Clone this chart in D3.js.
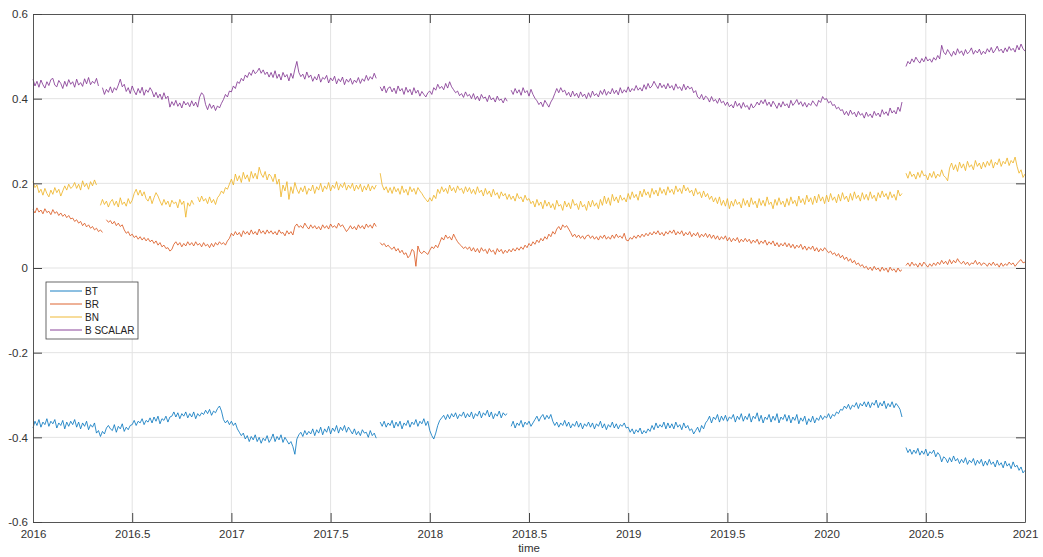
<!DOCTYPE html>
<html>
<head>
<meta charset="utf-8">
<script src="https://cdn.jsdelivr.net/npm/d3@7"></script>
<style>
  body { margin: 0; background: #fff; }
  svg { display: block; font-family: "Liberation Sans", Arial, sans-serif; }
</style>
</head>
<body>
<div id="chart"></div>
<script>
// samples every 0.01 yr from 2016.00 to 2021.00 (501 values per series, 20 per row)
const t0 = 2016, dt = 0.01;

const bt = [
  -.378,-.362,-.372,-.358,-.376,-.364,-.370,-.356,-.374,-.362,-.368,-.358,-.378,-.366,-.372,-.360,-.380,-.364,-.374,-.362,
  -.370,-.358,-.376,-.364,-.380,-.366,-.374,-.362,-.382,-.370,-.376,-.366,-.390,-.384,-.398,-.386,-.392,-.378,-.372,-.380,
  -.384,-.370,-.388,-.374,-.380,-.368,-.386,-.376,-.382,-.372,-.370,-.360,-.372,-.362,-.366,-.356,-.370,-.360,-.364,-.354,
  -.366,-.352,-.362,-.350,-.368,-.356,-.360,-.350,-.364,-.352,-.350,-.340,-.352,-.342,-.356,-.344,-.350,-.340,-.354,-.344,
  -.352,-.340,-.356,-.344,-.350,-.342,-.346,-.336,-.344,-.334,-.348,-.338,-.342,-.332,-.326,-.338,-.358,-.366,-.360,-.370,
  -.362,-.372,-.366,-.380,-.388,-.396,-.390,-.404,-.396,-.410,-.398,-.406,-.394,-.410,-.400,-.414,-.402,-.408,-.396,-.412,
  -.404,-.392,-.410,-.398,-.406,-.394,-.412,-.400,-.408,-.416,-.410,-.422,-.440,-.404,-.394,-.388,-.398,-.384,-.394,-.386,
  -.392,-.380,-.396,-.382,-.390,-.376,-.394,-.380,-.388,-.374,-.392,-.378,-.386,-.372,-.390,-.376,-.384,-.372,-.388,-.376,
  -.384,-.392,-.380,-.394,-.386,-.396,-.382,-.390,-.388,-.400,-.384,-.396,-.390,-.402,null,-.364,-.374,-.362,-.376,-.366,
  -.372,-.360,-.378,-.364,-.374,-.362,-.380,-.366,-.372,-.360,-.376,-.364,-.370,-.358,-.374,-.362,-.368,-.356,-.372,-.362,
  -.384,-.396,-.404,-.390,-.372,-.360,-.354,-.348,-.358,-.346,-.356,-.344,-.352,-.342,-.356,-.346,-.350,-.340,-.354,-.344,
  -.352,-.340,-.356,-.344,-.350,-.338,-.354,-.342,-.348,-.336,-.352,-.340,-.356,-.344,-.350,-.338,-.354,-.342,-.348,-.344,
  null,-.374,-.362,-.378,-.366,-.372,-.360,-.376,-.364,-.370,-.362,-.374,-.366,-.358,-.350,-.362,-.352,-.346,-.358,-.348,
  -.356,-.346,-.362,-.372,-.364,-.376,-.366,-.372,-.360,-.374,-.364,-.378,-.368,-.374,-.362,-.376,-.366,-.380,-.368,-.374,
  -.364,-.376,-.366,-.380,-.368,-.374,-.362,-.378,-.368,-.382,-.370,-.376,-.364,-.378,-.368,-.380,-.370,-.374,-.366,-.378,
  -.376,-.388,-.380,-.392,-.382,-.388,-.378,-.392,-.384,-.390,-.380,-.386,-.372,-.382,-.366,-.378,-.370,-.376,-.364,-.380,
  -.366,-.378,-.368,-.380,-.364,-.376,-.370,-.382,-.366,-.378,-.372,-.384,-.380,-.392,-.384,-.376,-.388,-.372,-.380,-.366,
  -.360,-.350,-.366,-.352,-.358,-.346,-.364,-.350,-.360,-.348,-.362,-.352,-.356,-.346,-.364,-.350,-.358,-.344,-.362,-.350,
  -.358,-.344,-.364,-.350,-.356,-.342,-.362,-.348,-.366,-.352,-.358,-.346,-.364,-.350,-.360,-.344,-.366,-.352,-.358,-.346,
  -.362,-.348,-.366,-.352,-.360,-.346,-.368,-.354,-.362,-.350,-.370,-.356,-.364,-.350,-.366,-.354,-.360,-.348,-.358,-.350,
  -.354,-.344,-.356,-.346,-.350,-.340,-.344,-.334,-.336,-.326,-.332,-.322,-.334,-.324,-.328,-.318,-.332,-.320,-.326,-.316,
  -.328,-.316,-.330,-.318,-.324,-.312,-.330,-.318,-.326,-.314,-.332,-.320,-.328,-.316,-.330,-.320,-.326,-.334,-.352,null,
  -.424,-.436,-.428,-.440,-.430,-.438,-.426,-.442,-.432,-.440,-.428,-.444,-.434,-.438,-.430,-.446,-.436,-.442,-.458,-.446,
  -.450,-.460,-.448,-.458,-.444,-.456,-.450,-.462,-.452,-.460,-.448,-.464,-.454,-.460,-.450,-.466,-.454,-.462,-.452,-.468,
  -.456,-.466,-.452,-.464,-.458,-.470,-.454,-.466,-.460,-.472,-.456,-.468,-.462,-.474,-.458,-.470,-.466,-.478,-.470,-.484,
  -.478
];

const br = [
  .138,.130,.142,.132,.137,.128,.140,.131,.134,.126,.138,.129,.133,.124,.130,.122,.127,.119,.124,.116,
  .118,.110,.114,.106,.110,.100,.106,.097,.102,.094,.098,.090,.094,.086,.090,.084,null,.114,.108,.112,
  .104,.110,.100,.106,.098,.102,.090,.082,.086,.076,.080,.072,.076,.068,.074,.066,.072,.064,.070,.062,
  .066,.058,.064,.054,.060,.050,.054,.046,.048,.040,.044,.056,.062,.054,.060,.050,.058,.052,.062,.054,
  .060,.052,.062,.054,.058,.050,.060,.052,.056,.048,.058,.050,.060,.054,.062,.056,.060,.054,.064,.070,
  .082,.076,.086,.078,.084,.074,.088,.080,.086,.078,.090,.080,.086,.078,.092,.082,.088,.080,.090,.082,
  .088,.080,.086,.078,.090,.082,.084,.076,.088,.080,.086,.078,.098,.104,.096,.100,.094,.106,.098,.092,
  .102,.094,.100,.092,.098,.090,.102,.094,.100,.092,.104,.096,.100,.094,.106,.098,.102,.094,.086,.092,
  .100,.092,.098,.090,.102,.094,.100,.092,.104,.096,.102,.094,.106,.098,null,.060,.054,.058,.050,.054,
  .048,.044,.050,.040,.046,.036,.042,.032,.036,.024,.030,.044,.040,.004,.052,.038,.034,.040,.036,.032,
  .042,.050,.046,.054,.048,.060,.072,.066,.078,.070,.074,.066,.080,.070,.062,.056,.052,.046,.050,.044,
  .050,.040,.048,.038,.046,.036,.048,.040,.044,.034,.046,.038,.042,.032,.046,.038,.044,.034,.042,.036,
  .044,.038,.046,.040,.048,.042,.050,.044,.054,.048,.058,.052,.062,.056,.066,.060,.070,.064,.074,.068,
  .080,.074,.086,.080,.092,.098,.090,.102,.096,.100,.092,.084,.074,.080,.072,.078,.070,.076,.068,.076,
  .078,.070,.076,.068,.074,.066,.076,.070,.078,.068,.074,.068,.078,.070,.080,.072,.076,.070,.082,.066,
  .064,.072,.068,.076,.070,.078,.072,.080,.074,.082,.076,.084,.078,.086,.080,.088,.078,.084,.076,.086,
  .080,.088,.082,.090,.078,.086,.080,.088,.076,.084,.078,.086,.074,.082,.076,.084,.072,.080,.074,.082,
  .072,.080,.070,.078,.068,.076,.066,.074,.068,.076,.064,.072,.062,.070,.064,.072,.060,.068,.062,.070,
  .062,.068,.058,.066,.060,.068,.056,.064,.058,.066,.054,.062,.056,.064,.052,.060,.050,.058,.052,.060,
  .050,.058,.048,.056,.046,.054,.048,.056,.044,.052,.042,.050,.044,.052,.040,.048,.038,.046,.040,.048,
  .042,.036,.040,.032,.036,.028,.034,.024,.030,.020,.026,.016,.022,.012,.018,.008,.012,.004,.008,0,
  .004,-.004,.002,-.006,.004,-.004,0,-.008,.002,-.006,0,-.010,.002,-.006,-.002,-.010,0,-.008,-.004,null,
  .006,.012,.004,.014,.006,.010,.002,.012,.004,.014,.008,.002,.010,.004,.012,.006,.014,.008,.018,.010,
  .016,.008,.020,.010,.018,.012,.022,.014,.010,.016,.008,.014,.006,.012,.010,.018,.008,.014,.006,.012,
  .010,.004,.012,.006,.014,.006,.010,.002,.012,.004,.010,.006,.014,.008,.012,.004,.010,.016,.020,.012,
  .014
];

const bn = [
  .204,.190,.196,.178,.186,.172,.188,.176,.168,.184,.174,.190,.178,.186,.170,.182,.194,.184,.198,.188,
  .192,.202,.188,.198,.184,.206,.192,.200,.186,.204,.194,.208,.196,null,.148,.162,.150,.158,.144,.156,
  .162,.148,.158,.144,.166,.150,.156,.146,.164,.152,.160,.176,.186,.172,.184,.170,.180,.164,.158,.170,
  .152,.166,.178,.170,.158,.148,.162,.150,.158,.144,.160,.152,.156,.142,.162,.150,.158,.120,.154,.146,
  .160,.150,null,.168,.156,.170,.158,.164,.152,.168,.154,.162,.150,.166,.172,.182,.176,.190,.186,.198,
  .210,.196,.222,.206,.218,.202,.226,.210,.220,.204,.228,.212,.224,.210,.238,.222,.214,.228,.208,.222,
  .216,.204,.222,.198,.210,.168,.196,.182,.204,.162,.192,.176,.202,.186,.176,.190,.180,.194,.174,.188,
  .182,.196,.176,.192,.184,.200,.180,.194,.186,.202,.182,.196,.188,.204,.184,.198,.190,.202,.184,.196,
  .188,.200,.182,.196,.186,.198,.180,.194,.184,.198,.182,.194,.186,.196,null,.224,.196,.184,.192,.178,
  .190,.176,.192,.180,.188,.174,.194,.178,.186,.172,.192,.180,.188,.174,.190,.182,.176,.168,.162,.156,
  .166,.158,.172,.164,.186,.176,.192,.180,.188,.176,.196,.182,.190,.178,.194,.184,.188,.176,.192,.180,
  .190,.176,.186,.174,.192,.178,.184,.170,.188,.174,.182,.168,.186,.172,.178,.164,.180,.170,.176,.162,
  .174,.162,.170,.158,.176,.164,.168,.156,.172,.160,.164,.152,.158,.144,.162,.148,.156,.140,.160,.146,
  .156,.142,.152,.138,.160,.146,.150,.136,.158,.144,.154,.140,.162,.148,.152,.138,.158,.144,.150,.136,
  .158,.144,.160,.146,.154,.140,.162,.148,.170,.152,.166,.148,.174,.158,.168,.154,.172,.160,.166,.156,
  .176,.162,.180,.166,.174,.160,.182,.168,.186,.172,.180,.166,.188,.174,.184,.170,.190,.176,.186,.172,
  .192,.178,.186,.174,.194,.180,.188,.176,.196,.182,.190,.178,.184,.170,.188,.174,.180,.166,.182,.168,
  .176,.162,.170,.156,.166,.152,.168,.148,.160,.146,.164,.140,.158,.146,.162,.150,.156,.142,.164,.148,
  .160,.144,.166,.150,.158,.142,.164,.148,.160,.146,.168,.150,.156,.140,.162,.148,.166,.150,.158,.144,
  .164,.148,.168,.152,.160,.146,.170,.154,.164,.150,.172,.156,.166,.150,.170,.154,.174,.158,.168,.152,
  .172,.156,.176,.160,.168,.154,.174,.158,.178,.162,.170,.156,.176,.160,.180,.164,.172,.158,.178,.162,
  .174,.160,.180,.164,.172,.158,.178,.166,.182,.168,.176,.162,.180,.166,.174,.160,.184,.170,.176,null,
  .224,.212,.228,.216,.222,.210,.226,.214,.230,.218,.220,.208,.224,.214,.228,.212,.222,.216,.232,.218,
  .214,.206,.236,.248,.232,.244,.228,.250,.236,.246,.230,.252,.238,.244,.232,.254,.240,.248,.234,.250,
  .238,.252,.242,.256,.236,.250,.244,.258,.240,.252,.246,.260,.242,.254,.248,.262,.240,.224,.232,.214,
  .222
];

const bScalar = [
  .446,.430,.441,.427,.444,.433,.425,.440,.431,.445,.448,.432,.428,.443,.436,.424,.441,.429,.445,.434,
  .440,.427,.446,.432,.438,.429,.447,.435,.450,.433,.441,.436,.448,.430,null,.426,.410,.422,.415,.428,
  .414,.426,.420,.432,.446,.428,.434,.417,.426,.412,.430,.418,.409,.424,.413,.427,.408,.421,.415,.426,
  .418,.404,.415,.402,.411,.398,.414,.400,.406,.380,.393,.384,.396,.382,.390,.378,.394,.385,.391,.381,
  .395,.383,.392,.380,.404,.414,.408,.386,.374,.388,.377,.385,.372,.383,.378,.389,.398,.410,.404,.418,
  .416,.430,.424,.440,.436,.448,.442,.456,.450,.462,.455,.468,.459,.464,.472,.460,.468,.457,.463,.451,
  .462,.450,.466,.448,.458,.444,.462,.451,.457,.442,.460,.448,.470,.488,.462,.452,.458,.446,.463,.450,
  .456,.441,.452,.444,.458,.439,.450,.446,.455,.437,.449,.442,.453,.435,.447,.440,.451,.433,.446,.439,
  .448,.434,.444,.438,.450,.436,.447,.441,.455,.443,.452,.446,.460,.448,null,.428,.418,.430,.414,.425,
  .428,.416,.425,.412,.430,.418,.424,.410,.427,.415,.422,.409,.426,.413,.420,.406,.417,.410,.404,.414,
  .418,.410,.426,.420,.434,.424,.429,.421,.436,.425,.440,.428,.421,.414,.418,.407,.412,.403,.416,.406,
  .410,.400,.412,.398,.406,.395,.410,.401,.404,.393,.408,.397,.402,.392,.406,.396,.399,.390,.402,.394,
  null,.420,.410,.424,.413,.421,.408,.426,.414,.419,.406,.422,.410,.401,.395,.386,.392,.381,.396,.388,
  .380,.392,.400,.412,.424,.414,.426,.416,.420,.408,.415,.404,.418,.406,.413,.402,.416,.405,.411,.400,
  .414,.403,.418,.407,.412,.404,.419,.410,.422,.408,.417,.411,.424,.412,.420,.409,.426,.413,.421,.415,
  .428,.416,.424,.419,.431,.420,.426,.418,.433,.422,.436,.425,.430,.441,.432,.424,.437,.426,.433,.423,
  .436,.425,.431,.420,.435,.424,.428,.419,.434,.421,.430,.423,.427,.414,.419,.404,.400,.410,.397,.406,
  .402,.392,.405,.394,.398,.389,.401,.390,.394,.384,.392,.381,.386,.378,.394,.382,.389,.377,.391,.380,
  .384,.374,.388,.378,.383,.392,.385,.396,.388,.398,.384,.392,.381,.394,.386,.377,.390,.380,.393,.383,
  .388,.378,.396,.384,.390,.398,.386,.393,.382,.391,.380,.389,.384,.395,.388,.382,.396,.391,.405,.398,
  .400,.390,.394,.384,.386,.376,.380,.372,.374,.362,.370,.360,.373,.363,.368,.357,.370,.361,.365,.354,
  .368,.358,.364,.355,.370,.360,.366,.357,.374,.363,.369,.360,.378,.366,.372,.364,.380,.370,.392,null,
  .476,.488,.482,.494,.486,.498,.490,.484,.495,.487,.499,.489,.494,.486,.497,.491,.502,.494,.526,.510,
  .504,.516,.508,.500,.512,.503,.518,.507,.513,.502,.516,.506,.511,.520,.505,.514,.508,.517,.504,.512,
  .506,.518,.510,.521,.508,.515,.524,.512,.517,.508,.520,.511,.523,.514,.519,.510,.526,.515,.529,.518,
  .512
];

const seriesNames = ["BT", "BR", "BN", "B SCALAR"];
const seriesValues = [bt, br, bn, bScalar];
const colors = ["#0072BD", "#D95319", "#EDB120", "#7E2F8E"];
const xTicks = [2016, 2016.5, 2017, 2017.5, 2018, 2018.5, 2019, 2019.5, 2020, 2020.5, 2021];
const yTicks = [-0.6, -0.4, -0.2, 0, 0.2, 0.4, 0.6];

const W = 1043, H = 557;
const margin = { top: 14, right: 18, bottom: 35, left: 33 };
const w = W - margin.left - margin.right;
const h = H - margin.top - margin.bottom;

const svg = d3.select("#chart").append("svg")
  .attr("width", W).attr("height", H);
svg.append("rect").attr("width", W).attr("height", H).attr("fill", "#fff");

const g = svg.append("g").attr("transform", `translate(${margin.left},${margin.top})`);

const x = d3.scaleLinear().domain([2016, 2021]).range([0, w]);
const y = d3.scaleLinear().domain([-0.6, 0.6]).range([h, 0]);

// grid
g.append("g").selectAll("line")
  .data(xTicks.slice(1, -1)).enter().append("line")
  .attr("x1", d => x(d)).attr("x2", d => x(d))
  .attr("y1", 0).attr("y2", h)
  .attr("stroke", "#e3e3e3").attr("stroke-width", 1);
g.append("g").selectAll("line")
  .data(yTicks.slice(1, -1)).enter().append("line")
  .attr("x1", 0).attr("x2", w)
  .attr("y1", d => y(d)).attr("y2", d => y(d))
  .attr("stroke", "#e3e3e3").attr("stroke-width", 1);

// series
const line = d3.line()
  .defined(d => d != null)
  .x((d, i) => x(t0 + i * dt))
  .y(d => y(d));

seriesValues.forEach(function (vals, k) {
  g.append("path")
    .datum(vals)
    .attr("fill", "none")
    .attr("stroke", colors[k])
    .attr("stroke-width", 0.8)
    .attr("d", line);
});

// axes (ticks inward, box on)
const fmtY = d => d === 0 ? "0" : String(+d.toFixed(1));
const styleAxis = sel => {
  sel.select(".domain").attr("stroke", "#555");
  sel.selectAll(".tick line").attr("stroke", "#444");
  sel.selectAll(".tick text").attr("fill", "#333").style("font-size", "11.5px");
};

g.append("g").attr("transform", `translate(0,${h})`)
  .call(d3.axisBottom(x).tickValues(xTicks).tickFormat(d => String(d))
    .tickSizeInner(-9).tickSizeOuter(0).tickPadding(8))
  .call(styleAxis);
g.append("g")
  .call(d3.axisTop(x).tickValues(xTicks.slice(1, -1)).tickFormat("")
    .tickSizeInner(-9).tickSizeOuter(0))
  .call(styleAxis);
g.append("g")
  .call(d3.axisLeft(y).tickValues(yTicks).tickFormat(fmtY)
    .tickSizeInner(-9).tickSizeOuter(0).tickPadding(5))
  .call(styleAxis);
g.append("g").attr("transform", `translate(${w},0)`)
  .call(d3.axisRight(y).tickValues(yTicks.slice(1, -1)).tickFormat("")
    .tickSizeInner(-9).tickSizeOuter(0))
  .call(styleAxis);

// x label
svg.append("text")
  .attr("x", margin.left + w / 2).attr("y", 552)
  .attr("text-anchor", "middle")
  .attr("fill", "#333").style("font-size", "11.5px")
  .text("time");

// legend
const leg = svg.append("g").attr("transform", "translate(46,282)");
leg.append("rect").attr("width", 92).attr("height", 57)
  .attr("fill", "#fff").attr("stroke", "#444").attr("stroke-width", 0.8);
seriesNames.forEach(function (name, k) {
  const ly = 9 + k * 13;
  leg.append("line").attr("x1", 4).attr("x2", 36).attr("y1", ly).attr("y2", ly)
    .attr("stroke", colors[k]).attr("stroke-width", 0.9);
  leg.append("text").attr("x", 39).attr("y", ly + 3.5)
    .attr("fill", "#222").style("font-size", "10px").text(name);
});
</script>
</body>
</html>
